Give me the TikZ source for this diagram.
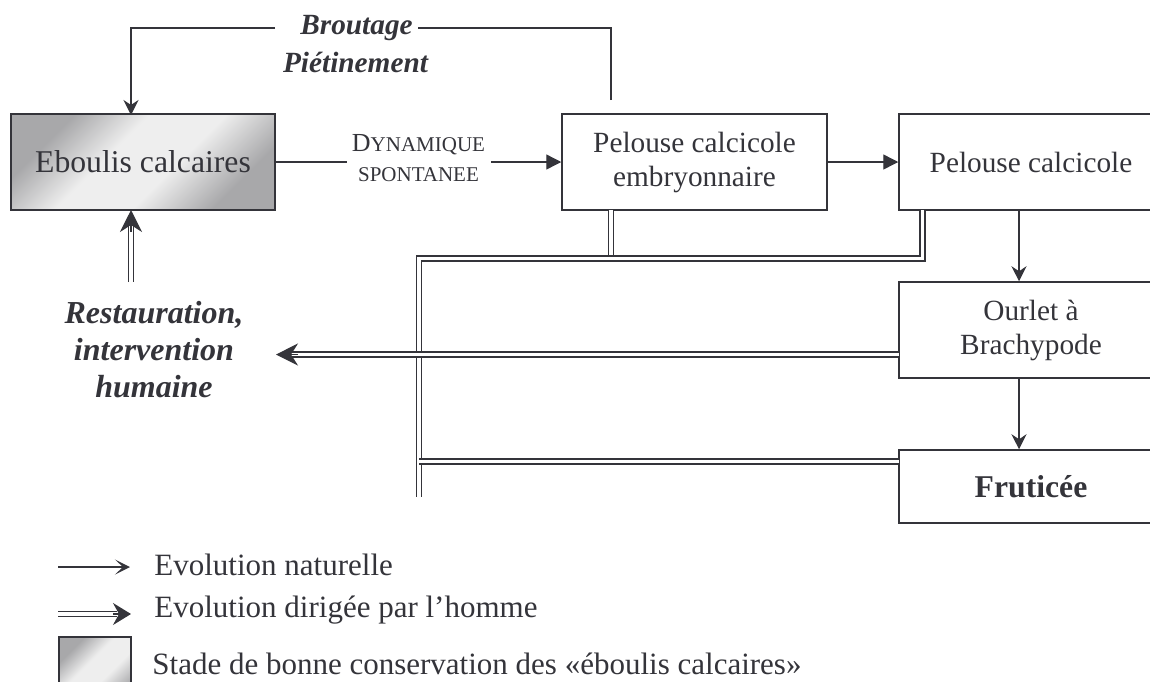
\documentclass[tikz,border=0pt]{standalone}
\usepackage{fontspec}
\setmainfont{Liberation Serif}
\usetikzlibrary{arrows.meta,calc}

\definecolor{ink}{RGB}{52,52,58}
\definecolor{shadedark}{RGB}{168,168,170}
\definecolor{shadelight}{RGB}{238,238,238}

% diagonal grey sheen used for the well-preserved scree stage
\pgfdeclareverticalshading{screesheen}{100bp}{%
  color(0bp)=(shadedark); color(27bp)=(shadedark); color(43bp)=(shadelight);
  color(58bp)=(shadelight); color(73bp)=(shadedark); color(100bp)=(shadedark)}

\newcommand\myboxfont{\fontsize{14.65pt}{17pt}\selectfont}
\newcommand\mybigfont{\fontsize{15.85pt}{18pt}\selectfont}
\newcommand\mylegfont{\fontsize{15.5pt}{18pt}\selectfont}
\newcommand\myactfont{\fontsize{14.65pt}{17pt}\selectfont\bfseries\itshape}
\newcommand\myrestfont{\fontsize{16pt}{18.5pt}\selectfont\bfseries\itshape}

\tikzset{
  box/.style={draw=ink, line width=0.75pt, rectangle, minimum width=132pt,
    minimum height=48pt, inner sep=0pt, align=center, text=ink, font=\myboxfont},
  gradbox/.style={shading=screesheen, shading angle=45},
  lbl/.style={inner sep=0pt, text=ink},
  plain/.style={draw=ink, line width=0.7pt},
  nat/.style={plain, -{Triangle[length=7.5pt,width=7.5pt]}},
  natdown/.style={plain, -{Stealth[length=7.5pt,width=7.5pt,inset=2.5pt]}},
  legnat/.style={plain, -{Stealth[length=7.5pt,width=7.5pt,inset=4pt]}},
  dbl/.style={draw=ink, line width=0.85pt, double=white, double distance=1.7pt},
  dtip/.style={draw=ink, line width=0.65pt, -{Stealth[length=11pt,width=11pt,inset=3.5pt]}},
  legtip/.style={draw=ink, line width=0.65pt, -{Stealth[length=9pt,width=11pt,inset=3pt]}},
}

\begin{document}
\begin{tikzpicture}[x=0.5pt, y=-0.5pt]
\useasboundingbox (0,0) rectangle (1150,681);
\clip (0,0) rectangle (1150,681);

% ---- succession stages ----
\node[box, gradbox, font=\mybigfont] (ebo) at (143,162) {Eboulis calcaires};
\node[box, minimum width=132.5pt] (emb) at (694.5,162) {Pelouse calcicole\\embryonnaire};
\node[box] (pel) at (1031,162) {Pelouse calcicole};
\node[box] (our) at (1031,330) {Ourlet à\\Brachypode};
\node[box, minimum height=36.5pt, font=\mybigfont\bfseries] (fru) at (1031,486.5) {Fruticée};

% ---- labels ----
\node[lbl, font=\myactfont] (brout) at (356.5,28) {Broutage};
\node[lbl, font=\myactfont] (piet) at (355.5,62) {Piétinement};
\node[lbl] (dyn) at (418.5,145)
  {{\fontsize{13pt}{13pt}\selectfont D}{\fontsize{10.5pt}{10.5pt}\selectfont YNAMIQUE}};
\node[lbl, font=\fontsize{10.5pt}{10.5pt}\selectfont] (spont) at (418.5,175) {SPONTANEE};
\node[lbl, align=center, font=\myrestfont] (rest) at (154,350)
  {Restauration,\\intervention\\humaine};

% ---- connector ports ----
\coordinate (fbstart) at (611,100);
\coordinate (brR) at (418,28);
\coordinate (brL) at (275,28);
\coordinate (fbin) at (131,115);
\coordinate (dynL) at (347,162);
\coordinate (dynR) at (491,162);
\coordinate (pelout) at (1019,210);
\coordinate (ourout) at (1019,378);
\coordinate (embdrop) at (611,210);
\coordinate (peldrop) at (922.5,210);
\coordinate (rail) at (419,258.5);
\coordinate (railend) at (419,497);
\coordinate (ourin) at (899,354.5);
\coordinate (restip) at (276,354.5);
\coordinate (fruin) at (899,461.5);
\coordinate (restup) at (131,282);
\coordinate (eboin) at (131,210);

% ---- grazing / trampling feedback ----
\draw[plain] (fbstart) |- (brR);
\draw[natdown] (brL) -| (fbin);

% ---- spontaneous dynamics ----
\draw[plain] (ebo.east) -- (dynL);
\draw[nat] (dynR) -- (emb.west);
\draw[nat] (emb.east) -- (pel.west);
\draw[natdown] (pelout) -- (pelout |- our.north);
\draw[natdown] (ourout) -- (ourout |- fru.north);

% ---- human-driven evolution (double lines) ----
\draw[dbl] (embdrop) -- (embdrop |- rail);
\draw[dbl] (peldrop) |- (rail) -- (railend);
\draw[dbl, shorten >=8pt] (ourin) -- (restip);
\draw[dtip] ($(restip)+(22,0)$) -- (restip);
\draw[dbl] (railend |- fruin) -- (fruin);
\draw[dbl, shorten >=8pt] (restup) -- (eboin);
\draw[dtip] ($(eboin)+(0,22)$) -- (eboin);

% ---- legend ----
\coordinate (l1a) at (58,567);
\coordinate (l1b) at (130,567);
\coordinate (l2a) at (58,614);
\coordinate (l2b) at (131,614);
\draw[legnat] (l1a) -- (l1b);
\node[lbl, anchor=west, font=\mylegfont] (leg1) at (154,565) {Evolution naturelle};
\draw[dbl, shorten >=7pt] (l2a) -- (l2b);
\draw[legtip] ($(l2b)+(-18,0)$) -- (l2b);
\node[lbl, anchor=west, font=\mylegfont] (leg2) at (154,610) {Evolution dirigée par l’homme};
\node[draw=ink, line width=0.75pt, gradbox, minimum width=36pt, minimum height=36pt,
  inner sep=0pt] (leg3box) at (95,673) {};
\node[lbl, anchor=west, font=\mylegfont] (leg3) at (152,664)
  {Stade de bonne conservation des «éboulis calcaires»};
\end{tikzpicture}
\end{document}
